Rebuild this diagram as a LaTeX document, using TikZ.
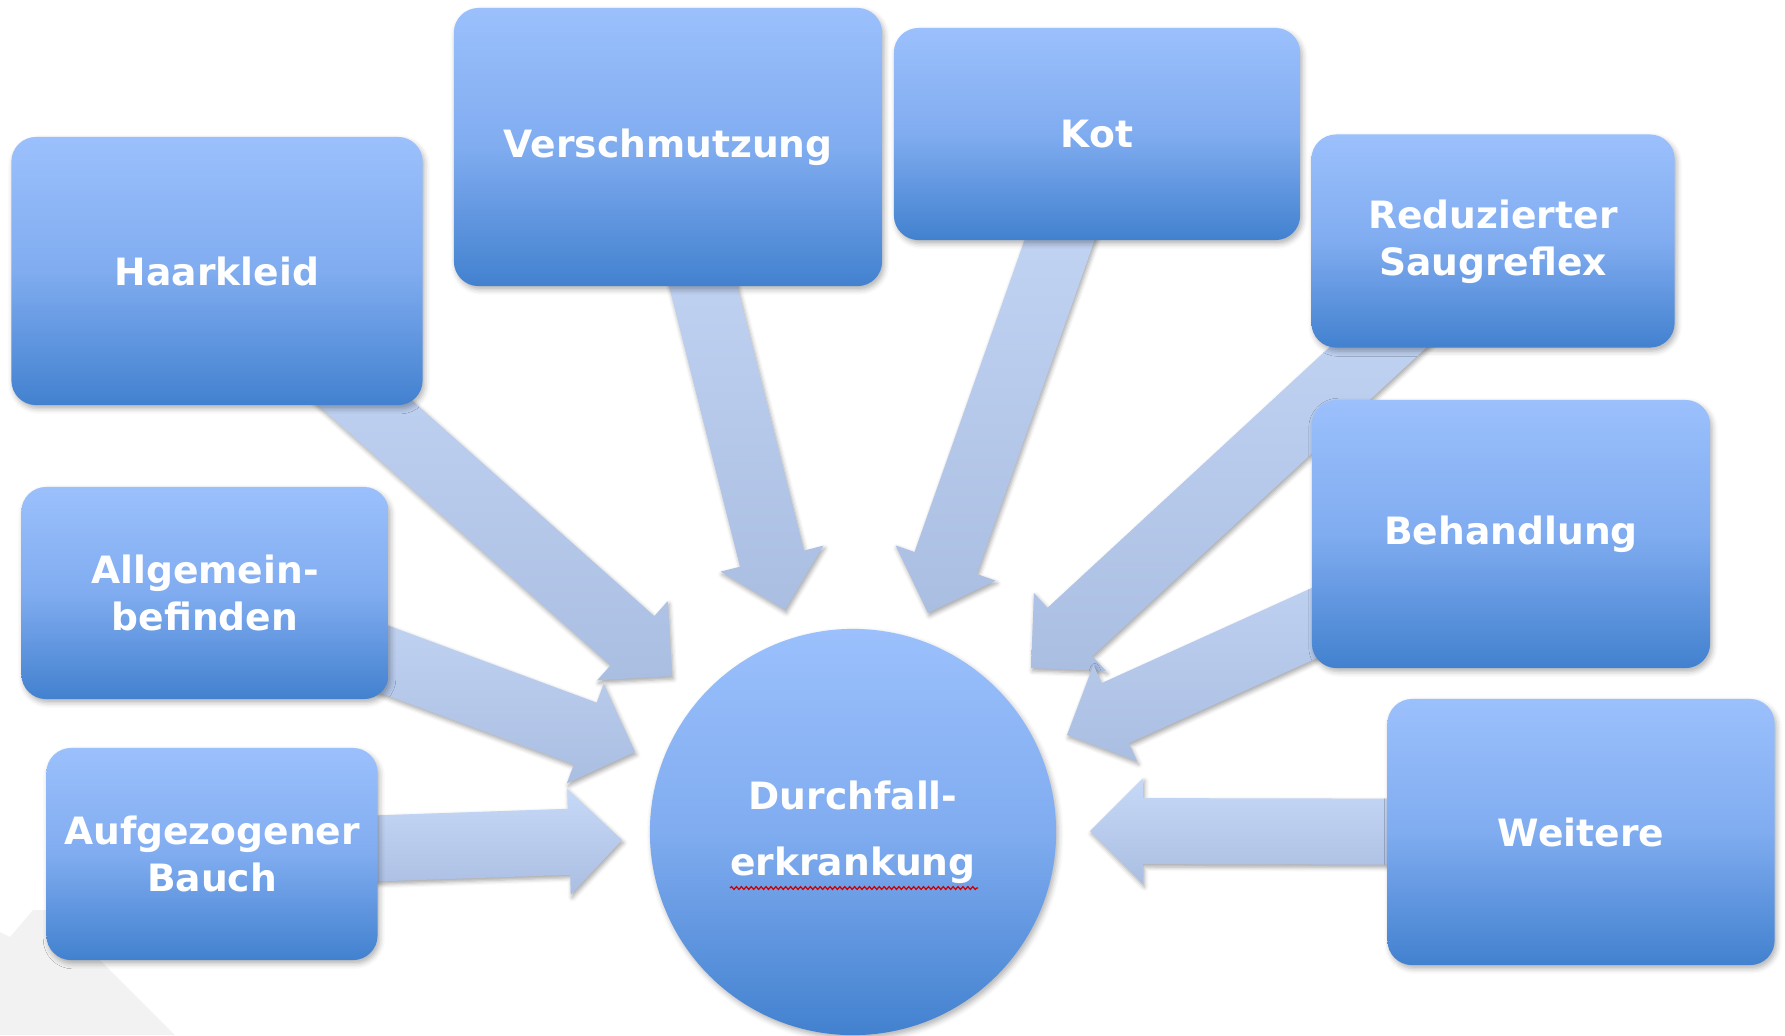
\documentclass[tikz,border=0pt]{standalone}
\usepackage{fontspec}
\setmainfont{DejaVu Sans}
\usetikzlibrary{calc,shadows.blur,backgrounds,decorations.pathmorphing}
\definecolor{boxtop}{RGB}{155,192,252}
\definecolor{boxmid}{RGB}{128,172,240}
\definecolor{boxbot}{RGB}{66,129,207}
\definecolor{arrtop}{RGB}{199,217,247}
\definecolor{arrbot}{RGB}{170,190,226}
\definecolor{slidegray}{RGB}{242,242,242}
\tikzset{
  box/.style={rectangle, rounded corners=7pt, top color=boxtop, bottom color=boxbot, middle color=boxmid,
    text=white, align=center, inner sep=0pt, font=\bfseries\fontsize{10.7}{13.4}\selectfont,
    blur shadow={shadow xshift=0.6pt, shadow yshift=-1pt, shadow blur radius=1.5pt, shadow opacity=30}},
  hub/.style={circle, top color=boxtop, bottom color=boxbot, middle color=boxmid,
    text=white, align=center, inner sep=0pt, font=\bfseries\fontsize{10.7}{18.9}\selectfont,
    blur shadow={shadow xshift=0.6pt, shadow yshift=-1pt, shadow blur radius=1.5pt, shadow opacity=30}},
  arrowbody/.style={top color=arrtop, bottom color=arrbot,
    blur shadow={shadow xshift=0.4pt, shadow yshift=-0.8pt, shadow blur radius=1.2pt, shadow opacity=35}},
  spellmark/.style={red!80!black, line width=0.35pt, decorate, decoration={snake, segment length=1.4pt, amplitude=0.4pt}}
}
% block arrow from the centre of a box to a tip coordinate
\newcommand{\blockarrow}[2]{%
  \coordinate (neck) at ($(#2)!0.53cm!(#1.center)$);
  \path[arrowbody] ($(#1.center)!0.33cm!90:(#2)$) -- ($(neck)!0.33cm!90:(#2)$)
    -- ($(neck)!0.53cm!90:(#2)$) -- (#2) -- ($(neck)!0.53cm!-90:(#2)$)
    -- ($(neck)!0.33cm!-90:(#2)$) -- ($(#1.center)!0.33cm!-90:(#2)$) -- cycle;}
\begin{document}
\begin{tikzpicture}[x=0.01cm, y=-0.01cm]
\useasboundingbox (0,0) rectangle (1785,1035);
\node[box, minimum width=4.11cm, minimum height=2.68cm] (hk) at (217,271) {Haarkleid};
\node[box, minimum width=4.28cm, minimum height=2.78cm] (vs) at (668,147) {Verschmutzung};
\node[box, minimum width=4.06cm, minimum height=2.12cm] (kot) at (1097,134) {Kot};
\node[box, minimum width=3.63cm, minimum height=2.13cm, text depth=0.07cm] (rs) at (1493,241) {Reduzierter\\Saugreflex};
\node[box, minimum width=3.98cm, minimum height=2.68cm] (bh) at (1511,534) {Behandlung};
\node[box, minimum width=3.87cm, minimum height=2.66cm] (wt) at (1581,832) {Weitere};
\node[box, minimum width=3.67cm, minimum height=2.12cm] (ab) at (205,593) {Allgemein-\\befinden};
\node[box, minimum width=3.31cm, minimum height=2.12cm] (ag) at (212,854) {Aufgezogener\\Bauch};
\node[hub, minimum size=4.06cm] (df) at (853,832) {Durchfall-\\erkrankung};
\draw[spellmark] (730,888) -- (978,888);
\coordinate (t-hk) at (672,676);
\coordinate (t-ab) at (635,752);
\coordinate (t-ag) at (622,840);
\coordinate (t-vs) at (785,610);
\coordinate (t-kot) at (928,613);
\coordinate (t-rs) at (1031,668);
\coordinate (t-bh) at (1067,735);
\coordinate (t-wt) at (1090,831);
\begin{scope}[on background layer]
\fill[slidegray] (0,932) -- (10,937) -- (33,910) -- (50,910) -- (175,1035) -- (0,1035) -- cycle;
\blockarrow{hk}{t-hk}
\blockarrow{ab}{t-ab}
\blockarrow{ag}{t-ag}
\blockarrow{vs}{t-vs}
\blockarrow{kot}{t-kot}
\blockarrow{rs}{t-rs}
\blockarrow{bh}{t-bh}
\blockarrow{wt}{t-wt}
\end{scope}
\end{tikzpicture}
\end{document}
